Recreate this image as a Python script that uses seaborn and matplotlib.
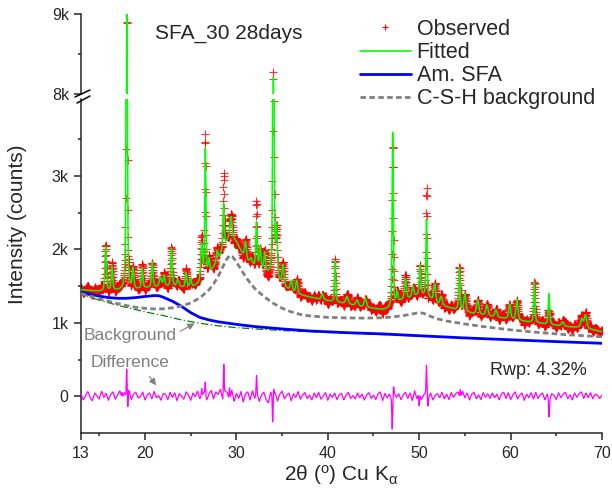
import numpy as np
import matplotlib
matplotlib.use("Agg")
import matplotlib.pyplot as plt
from matplotlib.lines import Line2D
import seaborn as sns

# %%
# peaks: position (2theta), height above base (counts), fwhm (deg)
peak_pos = [15.7, 16.4, 18.0, 18.7, 19.7, 20.8, 21.7, 22.1, 22.9, 23.6, 24.5, 25.0,
            26.2, 26.6, 27.0, 27.9, 28.6, 29.4, 31.0, 31.6, 32.2, 32.6, 33.1, 34.05,
            34.4, 35.1, 36.0, 36.6, 39.4, 40.8, 42.1, 43.2, 44.1, 47.1, 47.6, 48.5,
            49.3, 50.1, 50.8, 51.7, 52.4, 54.4, 55.0, 56.4, 57.4, 58.4, 59.9, 60.7,
            62.6, 64.2, 65.7, 67.8, 68.2]
peak_height = [600, 330, 7700, 280, 280, 350, 120, 150, 520, 100, 200, 120,
               500, 1750, 200, 150, 620, 300, 250, 80, 620, 300, 250, 6700,
               650, 280, 150, 180, 80, 560, 100, 80, 130, 2380, 150, 280,
               150, 400, 1050, 250, 120, 580, 250, 200, 150, 100, 200, 280,
               550, 420, 60, 120, 180]
peak_fwhm = [0.2, 0.2, 0.13, 0.2, 0.2, 0.2, 0.3, 0.2, 0.2, 0.3, 0.2, 0.2,
             0.25, 0.15, 0.2, 0.2, 0.18, 0.3, 0.25, 0.3, 0.18, 0.2, 0.2, 0.14,
             0.2, 0.25, 0.25, 0.25, 0.25, 0.15, 0.3, 0.3, 0.3, 0.15, 0.2, 0.25,
             0.25, 0.2, 0.15, 0.25, 0.3, 0.18, 0.25, 0.3, 0.3, 0.3, 0.25, 0.25,
             0.18, 0.18, 0.3, 0.3, 0.3]

# smooth base under the fitted profile
base_x = [13, 14, 15, 16, 17, 18, 19, 20, 21, 22, 23, 24, 25, 26, 27, 28, 29, 29.5, 30,
          31, 32, 33, 34, 35, 36, 37, 38, 40, 42, 44, 46, 47, 48, 49, 50, 51, 52, 54,
          56, 58, 60, 62, 64, 66, 68, 70]
base_y = [1450, 1440, 1430, 1430, 1440, 1440, 1450, 1470, 1480, 1490, 1490, 1480, 1480,
          1530, 1650, 1850, 2100, 2150, 2100, 1850, 1750, 1700, 1600, 1500, 1420, 1380,
          1350, 1300, 1260, 1210, 1180, 1200, 1300, 1330, 1380, 1350, 1250, 1180, 1120,
          1080, 1050, 1010, 980, 950, 930, 880]

# Am. SFA contribution
sfa_x = [13, 14, 15, 16, 17, 18, 19, 20, 21, 21.5, 22, 23, 24, 25, 26, 27, 28, 30, 32,
         35, 38, 42, 46, 50, 55, 60, 65, 70]
sfa_y = [1420, 1390, 1365, 1345, 1335, 1335, 1345, 1360, 1372, 1370, 1350, 1295, 1225,
         1140, 1075, 1040, 1015, 980, 950, 918, 890, 867, 850, 825, 795, 770, 745, 722]

# C-S-H background
csh_x = [13, 14, 15, 16, 17, 18, 19, 20, 21, 22, 23, 24, 25, 26, 27, 27.5, 28, 28.5, 29,
         29.3, 29.6, 30, 30.5, 31, 31.5, 32, 33, 34, 35, 36, 37, 38, 40, 42, 44, 46, 47,
         48, 49, 50, 50.5, 51, 52, 53, 55, 57, 60, 63, 66, 70]
csh_y = [1400, 1365, 1330, 1295, 1262, 1235, 1212, 1197, 1190, 1192, 1205, 1230, 1272,
         1340, 1450, 1530, 1630, 1760, 1880, 1920, 1900, 1830, 1730, 1630, 1545, 1470,
         1360, 1270, 1200, 1150, 1115, 1095, 1075, 1068, 1065, 1070, 1080, 1095, 1115,
         1140, 1130, 1100, 1055, 1025, 985, 950, 905, 870, 840, 810]

# instrument background
bkg_x = [13, 14, 15, 16, 17, 18, 20, 22, 24, 26, 28, 30, 33, 36, 40, 45, 50, 55, 60, 65, 70]
bkg_y = [1400, 1350, 1310, 1275, 1240, 1210, 1150, 1100, 1040, 995, 960, 935, 910, 890,
         870, 845, 820, 795, 770, 745, 725]

# difference trace, read every 0.25 deg from 13 to 70
diff_noise = [35, -50, 10, 65, -20, -60, 45, 5, -35, 70, -15, 40, -55, 25, 60, -40, 15, 75, -30, 50,
              -10, 85, -45, 30, 55, -25, -5, 60, -50, 20, 45, -35, 65, -20, 10, -55, 40, 25, -45, 55,
              -15, 50, -60, 35, 5, -40, 60, 20, -55, 45, -5, 70, -30, 15, 55, -50, 30, 80, -35, 60,
              25, 95, -40, 75, 50, -65, 85, -70, 40, -30, 65, -80, 35, 60, -50, 75, -25, 45, -70, 20,
              55, -45, -90, 60, -20, 50, -65, 30, 70, -35, 15, 45, -60, 35, -15, 65, -40, 20, 50, -30,
              15, -50, 45, -20, 55, -40, 5, 50, -55, 30, -15, 45, -45, 20, 40, -50, 15, 55, -30, 10,
              -35, 45, -20, 30, -50, 20, 50, -30, 15, -45, 35, 60, -60, 40, -20, 30, -55, 50, -15, 35,
              -45, 20, 55, -30, 45, -60, 75, -35, 50, -45, 20, 60, -30, 45, -50, 15, 35, -20, 55, -35,
              30, -45, 50, -15, 35, 60, -30, 70, -20, 45, -50, 30, 55, -35, 20, -45, 50, -15, 35, -30,
              45, -20, 30, -50, 35, 55, -30, 50, -45, 20, 60, -35, 15, 45, -55, 30, -20, 50, -35, 55,
              -30, 20, 45, -50, 30, -70, 35, 15, -45, 50, -20, 30, 55, -35, 20, -50, 45, -15, 35, 60,
              -30, 45, -20, 50, -35, 30, 15, -30, 20]
# sharp misfit spikes in the difference trace
spike_pos = [17.5, 18.0, 18.12, 26.2, 26.6, 28.62, 29.25, 32.2, 33.97, 34.08, 47.05, 47.2,
             50.0, 50.8, 50.95, 54.5, 64.2]
spike_amp = [80, 380, -180, 100, 180, 420, 180, 250, -350, 100, -420, 100,
             -180, 380, -120, 120, -230]

# %%
tt = np.arange(13.0, 70.0001, 0.02)


def pvoigt(x, p, h, w):
    g = np.exp(-4 * np.log(2) * ((x - p) / w) ** 2)
    l = 1 / (1 + 4 * ((x - p) / w) ** 2)
    return h * (0.5 * g + 0.5 * l)


fitted = np.interp(tt, base_x, base_y)
for p, h, w in zip(peak_pos, peak_height, peak_fwhm):
    fitted = fitted + pvoigt(tt, p, h, w)

noise_tt = np.linspace(13.0, 70.0, len(diff_noise))
difference = np.interp(tt, noise_tt, diff_noise)
for p, a in zip(spike_pos, spike_amp):
    difference = difference + a * np.exp(-0.5 * ((tt - p) / 0.04) ** 2)
observed = fitted + difference

# %%
sns.set_style("ticks")
plt.rcParams["font.family"] = ["Liberation Sans", "DejaVu Sans"]
plt.rcParams["mathtext.fontset"] = "custom"
plt.rcParams["mathtext.rm"] = "Liberation Sans"
plt.rcParams["mathtext.it"] = "Liberation Sans"
plt.rcParams["axes.linewidth"] = 1.1
for a in ("x", "y"):
    plt.rcParams[f"{a}tick.major.width"] = 1.1
    plt.rcParams[f"{a}tick.minor.width"] = 1.1
    plt.rcParams[f"{a}tick.major.size"] = 5
    plt.rcParams[f"{a}tick.minor.size"] = 2.5
    plt.rcParams[f"{a}tick.labelsize"] = 11.5

W, H = 612, 495
fig = plt.figure(figsize=(W / 100, H / 100), dpi=100)
ax = fig.add_axes([81 / W, (H - 433) / H, 521 / W, 334 / H])
ax_top = fig.add_axes([81 / W, (H - 94) / H, 521 / W, 80 / H])

for a in (ax, ax_top):
    sns.scatterplot(x=tt, y=observed, marker="+", color="red", s=32, linewidth=0.8,
                    alpha=0.8, ax=a, zorder=2, legend=False)
    sns.lineplot(x=tt, y=fitted, color="#00ff00", lw=1.1, ax=a, zorder=3,
                 estimator=None, sort=False)

sns.lineplot(x=bkg_x, y=bkg_y, color="#008000", lw=0.9, ls=(0, (6, 2, 1, 2)), ax=ax, zorder=4)
sns.lineplot(x=sfa_x, y=sfa_y, color="#0000ff", lw=2, ax=ax, zorder=5)
sns.lineplot(x=csh_x, y=csh_y, color="#808080", lw=2, ls=(0, (2, 1.2)), ax=ax, zorder=5)
sns.lineplot(x=tt, y=difference, color="#ff00ff", lw=0.9, ax=ax, zorder=3,
             estimator=None, sort=False)

ax.set_xlim(13, 70)
ax.set_ylim(-500, 4050)
ax_top.set_xlim(13, 70)
ax_top.set_ylim(8000, 9000)

ax.set_xticks([13, 20, 30, 40, 50, 60, 70])
ax.set_xticks([15, 25, 35, 45, 55, 65], minor=True)
ax.set_yticks([0, 1000, 2000, 3000])
ax.set_yticklabels(["0", "1k", "2k", "3k"])
ax.set_yticks([500, 1500, 2500, 3500], minor=True)
ax_top.set_yticks([8000, 9000])
ax_top.set_yticklabels(["8k", "9k"])
ax_top.set_yticks([8500], minor=True)
ax_top.set_xticks([])
ax.tick_params(axis="both", which="both", pad=4)
ax.set_xlabel("")
ax.set_ylabel("")
ax_top.set_xlabel("")
ax_top.set_ylabel("")

sns.despine(ax=ax)
sns.despine(ax=ax_top, bottom=True)

# axis break marks
for (x0, y0, x1, y1) in [(75, 97, 90, 90), (77, 103, 90, 96)]:
    fig.add_artist(Line2D([x0 / W, x1 / W], [(H - y0) / H, (H - y1) / H],
                          color="black", lw=1.1))

fig.text(18 / W, (H - 224) / H, "Intensity (counts)", rotation=90, ha="center",
         va="center", fontsize=15)
fig.text(341 / W, (H - 475) / H, r"2θ ($^{\rm o}$) Cu K$_{\alpha}$", ha="center",
         va="center", fontsize=15)
fig.text(155 / W, (H - 33) / H, "SFA_30 28days", ha="left", va="center", fontsize=15)

ax.text(13.3, 832, "Background", color="#808080", fontsize=12.5, ha="left", va="center")
ax.annotate("", xy=(25.7, 1010), xytext=(23.6, 870),
            arrowprops=dict(arrowstyle="-|>", color="#808080", lw=0.8, mutation_scale=10))
ax.text(14.0, 464, "Difference", color="#808080", fontsize=12.5, ha="left", va="center")
ax.annotate("", xy=(21.4, 120), xytext=(20.3, 300),
            arrowprops=dict(arrowstyle="-|>", color="#808080", lw=0.8, mutation_scale=10))
ax.text(57.75, 355, "Rwp: 4.32%", fontsize=13, ha="left", va="center")

handles = [
    Line2D([], [], color="red", marker="+", ls="none", markersize=5, mew=0.8),
    Line2D([], [], color="#00ff00", lw=1.2),
    Line2D([], [], color="#0000ff", lw=2),
    Line2D([], [], color="#808080", lw=2, ls=(0, (2, 1.2))),
]
labels = ["Observed", "Fitted", "Am. SFA", "C-S-H background"]
fig.legend(handles, labels, loc="upper left", bbox_to_anchor=(360 / W, (H - 19) / H),
           frameon=False, fontsize=15.5, handlelength=2.35, handletextpad=0.28,
           labelspacing=0.1, borderpad=0, borderaxespad=0)

fig.savefig("out.png", dpi=100)
